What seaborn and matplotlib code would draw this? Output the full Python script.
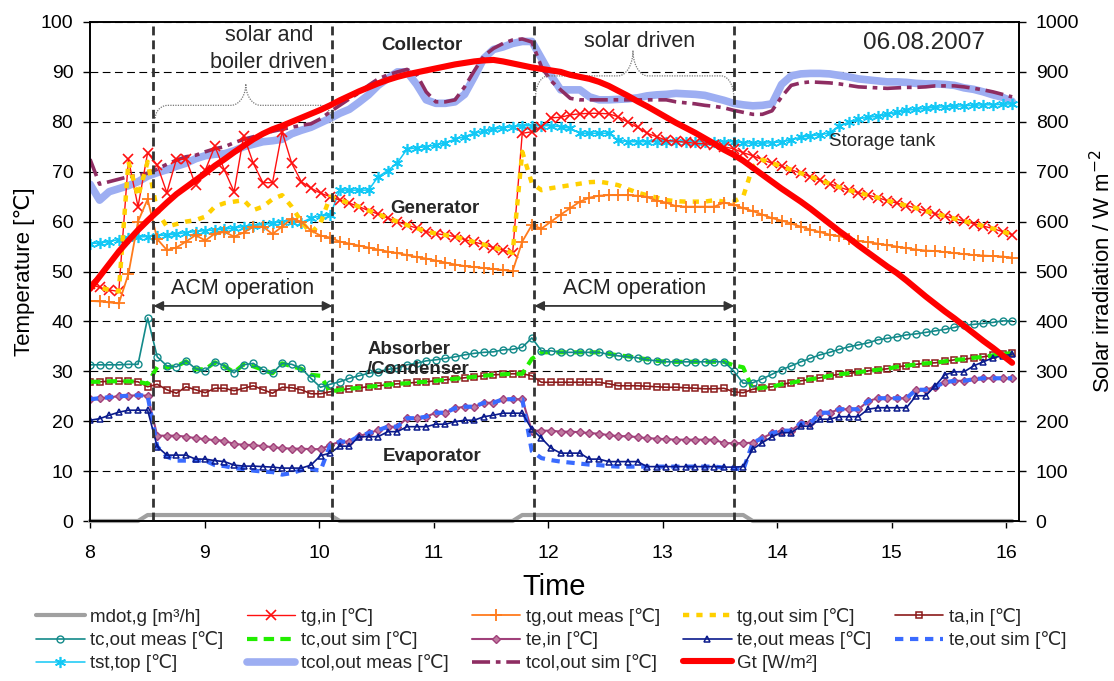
import numpy as np
import pandas as pd
import matplotlib
matplotlib.use("Agg")
import matplotlib.pyplot as plt
import seaborn as sns

sns.set_theme(style="white")
plt.rcParams['font.family'] = ['Liberation Sans', 'DejaVu Sans']

# ---------------- data (97 samples, ~5 min, 8:00 .. 16:03) ----------------
times = np.linspace(8.0, 16.05, 97)

mdot_g = [0, 0, 0, 0, 0, 0,
          1.2, 1.2, 1.2, 1.2, 1.2, 1.2, 1.2, 1.2, 1.2, 1.2, 1.2, 1.2, 1.2, 1.2, 1.2, 1.2, 1.2, 1.2, 1.2, 1.2,
          0, 0, 0, 0, 0, 0, 0, 0, 0, 0, 0, 0, 0, 0, 0, 0, 0, 0, 0,
          1.2, 1.2, 1.2, 1.2, 1.2, 1.2, 1.2, 1.2, 1.2, 1.2, 1.2, 1.2, 1.2, 1.2, 1.2, 1.2, 1.2, 1.2, 1.2, 1.2, 1.2, 1.2, 1.2, 1.2,
          0, 0, 0, 0, 0, 0, 0, 0, 0, 0, 0, 0, 0, 0, 0, 0, 0, 0, 0, 0, 0, 0, 0, 0, 0, 0, 0, 0]

tg_in = [47.5, 46.8, 46.3, 46.0,
         72.5, 63.0, 73.8, 71.3, 65.8, 72.5, 72.5, 67.3, 70.3, 75.1, 70.3, 66.0, 77.2, 71.7, 67.8, 67.8, 78.0, 71.7, 68.0, 66.7, 65.7, 65.0,
         64.3, 63.7, 63.0, 62.2, 61.5, 60.7, 60.0, 59.3, 58.7, 58.0, 57.6, 57.3, 57.0, 56.4, 55.9, 55.4, 54.8, 54.3, 53.7,
         77.7, 78.0, 79.0, 80.8, 80.9, 81.4, 81.6, 81.7, 81.7, 81.6, 81.0, 79.9, 78.9, 77.7, 77.0, 76.3, 76.1, 75.9, 75.7, 75.6, 75.4,
         75.0, 74.6, 73.8, 73.2, 72.4, 71.7, 71.1, 70.4, 69.7, 69.0, 68.3, 67.6, 66.9, 66.3, 65.8, 65.3, 64.8, 64.2, 63.7, 63.2,
         62.7, 62.1, 61.6, 61.1, 60.6, 60.1, 59.6, 59.1, 58.6, 58.0, 57.4]

tg_out_meas = [44.1, 44.0, 43.8, 43.6,
               49.5, 60.0, 64.5, 56.5, 54.3, 54.8, 56.0, 57.3, 56.2, 57.6, 57.9, 57.0, 57.8, 59.0, 59.0, 57.5, 59.0, 60.6, 60.0, 58.2, 57.2, 56.8,
               56.0, 55.6, 55.2, 54.8, 54.4, 54.0, 53.7, 53.3, 52.9, 52.6, 52.2, 51.8, 51.4, 51.1, 50.9, 50.7, 50.5, 50.3, 50.1,
               56.0, 59.3, 58.6, 60.0, 61.4, 62.7, 64.0, 64.8, 65.2, 65.3, 65.3, 65.3, 65.2, 64.9, 64.2, 63.8, 63.1, 63.0, 63.0, 63.0, 63.0,
               63.8, 63.4, 62.7, 62.1, 61.4, 60.7, 60.2, 59.6, 59.0, 58.4, 57.9, 57.4, 57.1, 56.6, 56.1, 55.9, 55.6, 55.3, 55.0, 54.7,
               54.4, 54.2, 54.1, 53.9, 53.7, 53.5, 53.3, 53.2, 53.1, 53.0, 52.8]

tg_out_sim = [47.5, 46.8, 46.3, 46.0,
              72.0, 65.0, 72.0, 62.0, 59.0, 59.5, 60.0, 60.3, 61.0, 63.0, 63.7, 64.0, 64.3, 62.3, 63.0, 64.5, 65.3, 63.0, 60.0, 57.7, 59.7, 65.0,
              64.3, 63.7, 63.0, 62.2, 61.5, 60.7, 60.0, 59.3, 58.7, 58.0, 57.6, 57.3, 57.0, 56.4, 55.9, 55.4, 54.8, 54.3, 53.7,
              74.0, 67.7, 66.3, 66.7, 67.0, 67.3, 67.6, 67.9, 68.0, 67.7, 67.3, 66.5, 65.8, 65.3, 64.8, 64.3, 64.1, 64.0, 64.0, 64.0,
              64.3, 64.0, 64.0, 65.0, 71.0,
              72.4, 71.7, 71.1, 70.4, 69.7, 69.0, 68.3, 67.6, 66.9, 66.3, 65.8, 65.3, 64.8, 64.2, 63.7, 63.2,
              62.7, 62.1, 61.6, 61.1, 60.6, 60.1, 59.6, 59.1, 58.6, 58.0, 57.4]

ta_in = [27.9, 27.9, 28.0, 28.0, 28.0, 27.9,
         26.9,
         27.4, 26.3, 25.6, 26.9, 26.3, 25.7, 26.6, 26.6, 26.1, 26.6, 27.1, 26.3, 25.6, 26.8, 26.7, 26.3, 25.5, 25.5, 25.9,
         26.3, 26.5, 26.7, 26.9, 27.1, 27.3, 27.5, 27.6, 27.8, 27.9, 28.1, 28.3, 28.5, 28.7, 28.9, 29.1, 29.3, 29.4, 29.5, 29.5, 29.1,
         27.8, 27.8, 27.8, 27.8, 27.8, 27.8, 27.8, 27.5, 27.1, 27.1, 27.1, 27.0, 26.9, 26.8, 26.8, 26.7, 26.6, 26.5, 26.5, 26.6,
         25.9, 25.7, 26.4,
         26.7, 26.9, 27.4, 27.7, 28.1, 28.4, 28.7, 29.1, 29.4, 29.6, 29.8, 30.1, 30.3, 30.5, 30.9, 31.1, 31.4, 31.6, 31.7, 32.0,
         32.3, 32.4, 32.7, 32.9, 33.2, 33.5, 33.6]

tc_out_meas = [31.3, 31.3, 31.3, 31.3, 31.4, 31.4,
               40.7,
               32.9, 31.1, 30.9, 32.1, 30.5, 30.1, 31.9, 31.1, 29.7, 31.3, 31.6, 30.3, 29.6, 31.6, 31.4, 30.6, 28.6, 26.8, 27.4,
               27.9, 28.6, 29.1, 29.6, 29.9, 30.4, 30.6, 31.3, 31.6, 32.1, 32.3, 32.6, 32.9, 33.3, 33.6, 33.8, 33.9, 34.3, 34.4, 34.8, 36.7,
               34.1, 34.1, 33.8, 33.8, 33.8, 33.8, 33.8, 33.4, 33.1, 32.9, 32.7, 32.3, 32.1, 31.9, 31.9, 31.9, 31.9, 31.9, 31.9, 31.9,
               30.1, 27.6,
               27.7, 28.5, 29.4, 30.3, 31.1, 31.9, 32.6, 33.3, 33.8, 34.4, 34.9, 35.3, 35.7, 36.3, 36.6, 36.9, 37.3, 37.5, 37.8, 38.1,
               38.4, 38.8, 39.2, 39.4, 39.6, 39.8, 40.1, 40.1]

tc_out_sim = [27.9, 27.9, 28.0, 28.0, 28.0, 27.9,
              27.5,
              30.9, 30.8, 31.0, 32.0, 30.4, 30.4, 31.8, 31.0, 29.8, 31.4, 31.0, 30.3, 29.6, 31.6, 31.0, 30.5, 29.3, 29.1,
              25.9, 26.3, 26.5, 26.7, 26.9, 27.1, 27.3, 27.5, 27.6, 27.8, 27.9, 28.1, 28.3, 28.5, 28.7, 28.9, 29.1, 29.3, 29.4, 29.5, 29.5,
              32.5, 33.8, 33.8, 33.8, 33.8, 33.8, 33.8, 33.8, 33.5, 33.2, 33.0, 32.7, 32.4, 32.1, 31.9, 31.9, 31.9, 31.9, 31.9, 31.9,
              31.9, 31.2, 30.8,
              26.4, 26.7, 26.9, 27.4, 27.7, 28.1, 28.4, 28.7, 29.1, 29.4, 29.6, 29.8, 30.1, 30.3, 30.5, 30.9, 31.1, 31.4, 31.6, 31.7,
              32.0, 32.3, 32.4, 32.7, 32.9, 33.2, 33.5, 33.6]

te_in = [24.4, 24.6, 24.8, 25.0, 25.1, 25.2, 25.1,
         17.1, 17.1, 17.1, 16.9, 16.6, 16.4, 16.2, 16.1, 15.4, 15.3, 15.2, 15.0, 14.8, 14.6, 14.5, 14.5, 14.4, 14.4,
         15.2, 15.9, 15.9, 17.0, 17.6, 18.2, 18.9, 18.9, 20.6, 20.6, 20.9, 21.7, 21.7, 22.6, 22.9, 22.9, 23.7, 23.7, 24.4, 24.4, 24.4,
         18.1, 18.1, 18.1, 17.9, 17.9, 17.8, 17.6, 17.5, 17.2, 17.0, 17.0, 16.8, 16.6, 16.5, 16.4, 16.3, 16.3, 16.3, 16.3, 16.3,
         15.6, 15.6, 15.6,
         15.7, 16.6, 17.6, 18.1, 18.1, 19.6, 19.6, 21.7, 21.7, 22.4, 22.4, 22.4, 24.0, 24.6, 24.6, 24.6, 24.6, 26.3, 26.3, 26.9,
         27.8, 28.1, 28.1, 28.4, 28.6, 28.6, 28.6, 28.6]

te_out_meas = [20.2, 20.5, 21.2, 21.8, 22.2, 22.2, 22.2,
               14.9, 13.2, 13.2, 13.2, 12.4, 12.4, 12.1, 11.9, 11.2, 11.0, 11.0, 10.9, 10.8, 10.6, 10.6, 10.6, 11.2, 13.1,
               13.6, 15.0, 15.0, 16.9, 16.9, 16.9, 17.9, 17.9, 18.9, 18.9, 18.9, 19.4, 19.4, 19.9, 20.2, 20.2, 20.9, 21.2, 21.6, 21.6, 21.6,
               18.4, 16.6, 14.6, 13.6, 13.6, 13.6, 12.4, 12.4, 11.9, 11.9, 11.9, 11.9, 10.9, 10.9, 10.9, 10.9, 10.9, 10.9, 10.9, 10.9,
               10.8, 10.8, 10.9,
               14.4, 15.7, 16.9, 17.7, 17.7, 19.0, 19.0, 20.4, 20.4, 20.9, 20.9, 20.9, 22.4, 22.7, 22.7, 22.7, 22.7, 25.1, 25.1, 27.1,
               29.3, 29.9, 29.9, 31.1, 31.9, 32.7, 33.1, 33.4]

te_out_sim = [24.4, 24.6, 24.8, 25.0, 25.1, 25.2, 25.1,
              14.9, 12.9, 12.1, 12.1, 12.1, 12.1, 11.2, 11.0, 10.6, 10.4, 10.1, 9.9, 9.8, 9.3, 9.6, 10.2, 10.4, 10.1,
              15.2, 15.9, 15.9, 17.0, 17.6, 18.2, 18.9, 18.9, 20.6, 20.6, 20.9, 21.7, 21.7, 22.6, 22.9, 22.9, 23.7, 23.7, 24.4, 24.4, 24.4,
              14.0, 12.6, 12.2, 11.9, 11.7, 11.5, 11.3, 11.2, 11.0, 10.9, 10.9, 10.9, 10.9, 10.9, 10.9, 10.9, 10.9, 10.9, 10.9, 10.9,
              10.7, 10.6, 10.2,
              15.7, 16.6, 17.6, 18.1, 18.1, 19.6, 19.6, 21.7, 21.7, 22.4, 22.4, 22.4, 24.0, 24.6, 24.6, 24.6, 24.6, 26.3, 26.3, 26.9,
              27.8, 28.1, 28.1, 28.4, 28.6, 28.6, 28.6, 28.6]

tst_top = [55.6, 55.7, 56.0, 56.4, 56.7, 56.9, 57.0, 57.2, 57.3, 57.5, 57.8, 58.0, 58.2, 58.3, 58.5, 58.7, 59.0, 59.2, 59.4, 59.7,
           60.0, 60.0, 59.8, 60.7, 61.1, 61.3,
           66.3, 66.3, 66.3, 66.3, 69.0, 70.2, 71.8, 74.5, 74.8, 75.0, 75.3, 75.8, 76.5, 77.0, 77.7, 78.1, 78.5, 78.8, 79.0, 79.2,
           79.2, 79.2, 79.2, 79.0, 78.7, 77.7, 77.7, 77.7, 77.7, 76.3, 76.0, 76.0, 76.0, 76.0, 76.0, 76.0, 76.0, 76.0, 76.0, 76.0, 76.0,
           76.0, 75.8, 75.7, 75.7, 75.8, 76.0, 76.4, 76.9, 77.2, 77.4, 77.8, 79.2, 79.9, 80.6, 80.9, 81.1, 81.5, 81.9, 82.3, 82.5,
           82.7, 82.9, 83.0, 83.1, 83.2, 83.3, 83.4, 83.4, 83.5, 83.6]

tcol_out_meas = [67.5, 64.3, 66.0, 66.6, 67.2, 68.0, 69.1, 69.8, 70.4, 71.1, 71.7, 72.6, 73.2, 73.5, 73.6, 74.2, 75.0, 75.5, 76.0, 76.2,
                 76.5, 77.6, 78.3, 78.9, 79.8, 80.7,
                 81.7, 82.5, 83.9, 85.4, 87.3, 88.7, 90.0, 90.0, 87.5, 84.4, 83.7, 83.7, 84.0, 85.5, 89.0, 92.7, 94.5, 95.0, 95.7, 96.1,
                 96.1, 92.7, 89.3, 86.4, 86.4,
                 86.4, 85.0, 84.4, 84.4, 84.5, 84.6, 84.8, 85.2, 85.4, 85.5, 85.7, 85.6, 85.5, 85.3, 84.8, 84.3, 83.7, 83.4, 83.2, 83.3,
                 83.6, 87.5, 89.2, 89.6, 89.7,
                 89.7, 89.6, 89.3, 89.0, 88.6, 88.4, 88.2, 88.0, 88.0, 87.9, 87.7, 87.6, 87.6, 87.5, 87.3, 86.8, 86.5, 86.0, 85.4, 84.9, 84.1]

tcol_out_sim = [72.5, 67.5, 68.0, 68.5, 69.0, 69.3, 69.7, 70.5, 71.5, 72.3, 73.0, 73.3, 74.0, 74.6, 75.0, 75.8, 76.5, 77.0, 77.6, 78.1,
                78.5, 78.9, 79.3, 79.6, 80.6, 82.0,
                83.3, 84.6, 85.8, 87.3, 88.6, 89.4, 90.0, 90.5, 89.5, 86.0, 84.0, 84.0, 84.4, 87.0, 90.2, 93.2, 94.7, 95.7, 96.4, 96.6,
                96.0, 91.0, 88.2, 86.4, 84.7,
                84.4, 84.4, 84.4, 84.4, 84.4, 84.4, 84.4, 84.4, 84.4, 84.4, 84.0, 83.8, 83.6, 83.3, 83.1, 82.8, 82.3, 81.9, 81.5, 81.5,
                82.2, 85.0, 87.3, 87.8, 88.0,
                87.9, 87.8, 87.6, 87.3, 87.0, 86.9, 86.8, 86.7, 86.8, 86.9, 86.9, 87.0, 87.2, 87.2, 87.2, 87.0, 86.7, 86.4, 86.0, 85.5, 85.0]

gt = [465, 490, 515, 540, 562, 583, 602, 620, 638, 655, 669, 683, 697, 712, 725, 739, 752, 765, 776, 785,
      792, 800, 808, 816, 824,
      833, 843, 852, 861, 869, 877, 884, 890, 895, 899, 903, 907, 911, 915, 918, 921, 923, 924, 921, 917,
      913, 909, 906, 903, 900,
      894, 890, 886, 880, 872, 862, 852, 841, 831, 820, 809, 798, 788, 778, 767, 756, 744, 734, 722, 708,
      694, 680, 666, 653, 640,
      626, 611, 596, 581, 567, 552, 538, 524, 510, 497, 482, 466, 450, 435, 420, 406, 391, 376, 361, 347, 332, 317]

acm_switch = [8.554, 10.116, 11.879, 13.624]

# ---------------- figure ----------------
W, H = 1114, 681
fig = plt.figure(figsize=(W / 100, H / 100), dpi=100)
ax = fig.add_axes([90 / W, 1 - 521 / H, (1019 - 90) / W, (521 - 22) / H])
ax2 = ax.twinx()

ax.set_xlim(8, 16.11)
ax.set_ylim(0, 100)
ax2.set_ylim(0, 1000)

ax.yaxis.grid(True, color='black', linestyle=(0, (7, 4)), linewidth=0.8)
ax.xaxis.grid(False)
ax.set_axisbelow(True)

def draw(y, label, **kw):
    sns.lineplot(x=times, y=y, ax=ax, label=label, legend=False, estimator=None, sort=False, **kw)
    return ax.lines[-1]

handles = {}
ln = draw(mdot_g, "mdot,g [m³/h]", color='#A0A0A0', linewidth=3, marker=None)
ln.set_clip_on(False)
handles['mdot'] = ln
handles['tcolm'] = draw(tcol_out_meas, "tcol,out meas [℃]", color='#9DAEF2', linewidth=5.5)
l = draw(tcol_out_sim, "tcol,out sim [℃]", color='#8E2D62', linewidth=2.6)
l.set_linestyle((0, (5, 1.6, 1.3, 1.6)))
handles['tcols'] = l
handles['tst'] = draw(tst_top, "tst,top [℃]", color='#12C8F5', linewidth=1.1, marker=(6, 2, 0),
                      markersize=8, mew=1.2, mec='#12C8F5')
handles['tgin'] = draw(tg_in, "tg,in [℃]", color='#FF1010', linewidth=1.0, marker='x',
                       markersize=7, mew=1.2, mec='#FF1010')
l = draw(tg_out_sim, "tg,out sim [℃]", color='#FFD000', linewidth=3.2)
l.set_linestyle((0, (1.4, 1.6)))
handles['tgos'] = l
handles['tgom'] = draw(tg_out_meas, "tg,out meas [℃]", color='#FF7B1C', linewidth=1.3, marker='+',
                       markersize=8, mew=1.3, mec='#FF7B1C')
handles['tain'] = draw(ta_in, "ta,in [℃]", color='#8B1A1A', linewidth=1.2, marker='s',
                       markersize=5, mew=1.1, mec='#8B1A1A', mfc='none')
l = draw(tc_out_sim, "tc,out sim [℃]", color='#22EE00', linewidth=3.0)
l.set_linestyle((0, (2.5, 1.5)))
handles['tcos'] = l
handles['tcom'] = draw(tc_out_meas, "tc,out meas [℃]", color='#138A8A', linewidth=1.2, marker='o',
                       markersize=5, mew=1.0, mec='#138A8A', mfc='none')
handles['tein'] = draw(te_in, "te,in [℃]", color='#A0407A', linewidth=1.5, marker='D',
                       markersize=4, mew=1.0, mec='#A0407A', mfc='#C07AA0')
l = draw(te_out_sim, "te,out sim [℃]", color='#3A6BFF', linewidth=3.0)
l.set_linestyle((0, (2.0, 1.6)))
handles['teos'] = l
handles['teom'] = draw(te_out_meas, "te,out meas [℃]", color='#0A1A8C', linewidth=1.2, marker='^',
                       markersize=5, mew=1.1, mec='#0A1A8C', mfc='none')

sns.lineplot(x=times, y=gt, ax=ax2, label="Gt [W/m²]", legend=False, estimator=None, sort=False,
             color='#FF0000', linewidth=4.4)
handles['gt'] = ax2.lines[-1]

# vertical switch lines
for xv in acm_switch:
    ax.axvline(xv, color='#333333', linewidth=2.0, linestyle=(0, (3.2, 1.8)), zorder=6)

# braces
def brace(x0, x1, xm, ye_l, ye_r, yb, yp, w=0.11, w2=0.13):
    th = np.linspace(0, np.pi / 2, 25)
    xs1 = x0 + w * (1 - np.cos(th)); ys1 = ye_l + (yb - ye_l) * np.sin(th)
    xs2 = xm - w2 + w2 * np.sin(th); ys2 = yb + (yp - yb) * (1 - np.cos(th))
    xs3 = xm + (xm - xs2[::-1]); ys3 = ys2[::-1]
    xs4 = x1 - w * (1 - np.cos(th[::-1])); ys4 = ye_r + (yb - ye_r) * np.sin(th[::-1])
    xs = np.concatenate([xs1, xs2, xs3, xs4]); ys = np.concatenate([ys1, ys2, ys3, ys4])
    ax.plot(xs, ys, color='#777777', linewidth=0.9, linestyle=(0, (1, 1)), zorder=4)

brace(8.57, 10.12, 9.36, 80.7, 79.3, 83.3, 87.6)
brace(11.89, 13.62, 12.74, 85.0, 85.0, 89.2, 94.3)

# text annotations
fs_lab = 13.5
ax.text(9.56, 94.6, "solar and\nboiler driven", ha='center', va='center', fontsize=15.5, linespacing=1.32)
ax.text(12.80, 96.0, "solar driven", ha='center', va='center', fontsize=15.5)
ax.text(15.28, 95.7, "06.08.2007", ha='center', va='center', fontsize=17.5)
ax.text(10.90, 95.2, "Collector", ha='center', va='center', fontsize=fs_lab, fontweight='bold')
ax.text(14.92, 76.1, "Storage tank", ha='center', va='center', fontsize=fs_lab)
ax.text(11.01, 62.6, "Generator", ha='center', va='center', fontsize=fs_lab, fontweight='bold')
ax.text(10.42, 32.4, "Absorber\n/Condenser", ha='left', va='center', fontsize=fs_lab, fontweight='bold',
        linespacing=1.25)
ax.text(10.99, 13.0, "Evaporator", ha='center', va='center', fontsize=fs_lab, fontweight='bold')

for (a, b) in [(acm_switch[0], acm_switch[1]), (acm_switch[2], acm_switch[3])]:
    ax.annotate('', xy=(b, 43.1), xytext=(a, 43.1),
                arrowprops=dict(arrowstyle='<|-|>', color='#333333', lw=1.3,
                                mutation_scale=14, shrinkA=0, shrinkB=0), zorder=7)
    ax.text((a + b) / 2, 46.6, "ACM operation", ha='center', va='center', fontsize=15.5, color='#222222')

# axes cosmetics
ax.set_xticks(range(8, 17))
ax.set_yticks(range(0, 101, 10))
ax2.set_yticks(range(0, 1001, 100))
ax.tick_params(axis='both', which='both', bottom=True, left=True, direction='out', length=5,
               width=1, color='black', labelsize=14, labelcolor='black')
ax.tick_params(axis='x', pad=12)
ax.tick_params(axis='y', pad=7)
ax2.tick_params(axis='y', right=True, direction='out', length=5, width=1, color='black',
                labelsize=14, labelcolor='black', pad=7)
for a in (ax, ax2):
    for s in a.spines.values():
        s.set_color('black')
        s.set_linewidth(1.2)
ax.set_xlabel("Time", fontsize=21, labelpad=8, color='black')
ax.set_ylabel("Temperature [℃]", fontsize=16, labelpad=4, color='black')
ax2.set_ylabel("Solar irradiation / W m$^{-2}$", fontsize=16, labelpad=8, color='black')

# legend (row-wise order mapped to matplotlib column filling)
order = ['mdot', 'tcom', 'tst', 'tgin', 'tcos', 'tcolm', 'tgom', 'tein', 'tcols', 'tgos', 'teom', 'gt',
         'tain', 'teos']
hl = [handles[k] for k in order]
fig.legend(hl, [h.get_label() for h in hl], loc='upper left', bbox_to_anchor=(36 / W, 1 - 608 / H),
           ncol=5, frameon=False, fontsize=13.5, handlelength=2.6, handletextpad=0.3,
           columnspacing=1.22, labelspacing=0.28, borderaxespad=0, borderpad=0)

fig.savefig("out.png", dpi=100)
